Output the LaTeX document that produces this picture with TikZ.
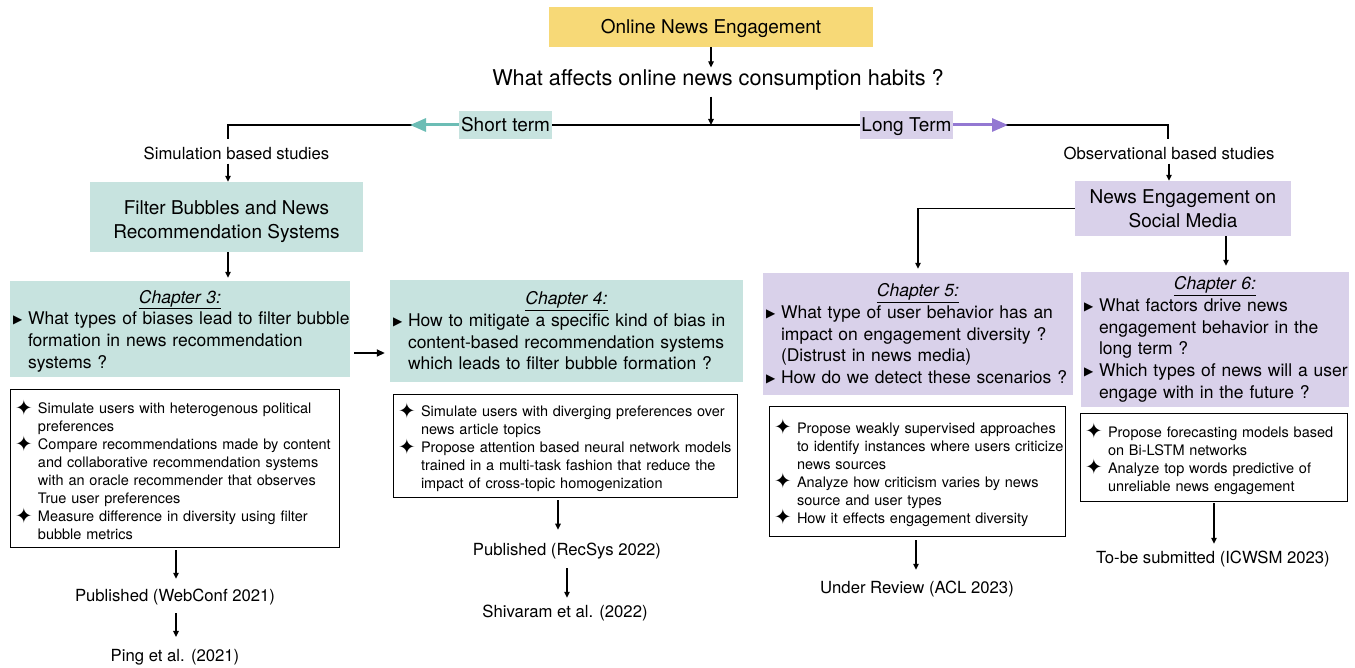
\documentclass[tikz,border=0pt]{standalone}
\usepackage{fontspec}
\setmainfont{TeX Gyre Heros}
\newfontfamily\symfont{DejaVu Sans}
\usetikzlibrary{arrows.meta}
\definecolor{ytitle}{HTML}{F7D977}
\definecolor{tealbox}{HTML}{C7E3DF}
\definecolor{lavbox}{HTML}{D9D1EA}
\definecolor{tealarr}{HTML}{6CBDB5}
\definecolor{purarr}{HTML}{9378D2}
\newcommand{\fsTitle}{\fontsize{19}{24}\selectfont}
\newcommand{\fsQ}{\fontsize{21.7}{26}\selectfont}
\newcommand{\fsSmall}{\fontsize{16.7}{20}\selectfont}
\newcommand{\fsChap}{\fontsize{17.5}{21.7}\selectfont}
\newcommand{\fsBul}{\fontsize{14.5}{18}\selectfont}
\newcommand{\chhead}[1]{{\centering\underline{\itshape #1}\par}}
\newcommand{\mytri}{\raisebox{1pt}{\symfont\fontsize{12}{12}\selectfont ▶}}
\newcommand{\mystar}{\raisebox{-1.5pt}{\symfont\fontsize{21}{18}\selectfont ✦}}
\newcommand{\citem}[1]{\par\raggedright\noindent\hangindent=15pt\hangafter=1\makebox[15pt][l]{\mytri}#1\par}
\newcommand{\sitem}[1]{\par\raggedright\noindent\hangindent=23pt\hangafter=1\makebox[23pt][l]{\mystar}#1\par}
\tikzset{
  line/.style={draw=black, line width=1.2pt},
  arr/.style={line, -{Triangle[length=6pt,width=5.5pt]}},
  arrbig/.style={draw=black, line width=1.8pt, -{Triangle[length=8pt,width=7pt]}},
  tarr/.style={draw=tealarr, line width=3pt, -{Triangle[length=16pt,width=13pt]}},
  parr/.style={draw=purarr, line width=3pt, -{Triangle[length=16pt,width=13pt]}},
  lbl/.style={font=\fsSmall, inner xsep=2pt, inner ysep=4pt},
  onebox/.style={font=\fsTitle, inner sep=0pt, text height=15pt, text depth=1pt},
  chapbox/.style={font=\fsChap, inner xsep=3pt, inner ysep=0pt},
  bulbox/.style={draw=black, line width=0.9pt, fill=white, font=\fsBul, inner xsep=5pt, inner ysep=0pt},
  headbox/.style={font=\fsTitle, align=center, inner sep=0pt}
}
\begin{document}
\begin{tikzpicture}[x=1pt,y=-1pt]
\useasboundingbox (0,0) rectangle (1355,668);
% coordinates
\coordinate (hub) at (711,125);
\coordinate (L) at (228,139);
\coordinate (R) at (1168,139);
\coordinate (tealend) at (410,125);
\coordinate (purend) at (1008,125);
\coordinate (m34) at (0,353);
\coordinate (c3) at (176,0);
\coordinate (c4a) at (558,0);
\coordinate (c4b) at (567,0);
\coordinate (c5) at (916,0);
\coordinate (c6) at (1214,0);
\coordinate (cn6) at (1226,0);
\coordinate (cobs) at (1169,0);
% main branch line
\draw[line] (L) |- (hub) -| (R);
% top nodes
\node[onebox, fill=ytitle, minimum width=324pt, minimum height=40pt] (title) at (711,27) {Online News Engagement};
\node[font=\fsQ, inner sep=2pt] (q) at (718,80) {What affects online news consumption habits ?};
\node[onebox, fill=tealbox, minimum width=93pt, minimum height=28pt] (short) at (505.5,125) {Short term};
\node[onebox, fill=lavbox, minimum width=93pt, minimum height=28pt] (long) at (906.5,125) {Long Term};
\node[lbl] (sim) at (236.5,153) {Simulation based studies};
\node[lbl] (obs) at (1169,153) {Observational based studies};
% second level
\node[headbox, fill=tealbox, minimum width=273pt, minimum height=70pt] (filter) at (226.5,217) {\rule{0pt}{23pt}Filter Bubbles and News\\Recommendation Systems};
\node[headbox, fill=lavbox, minimum width=216pt, minimum height=55pt] (news) at (1183,208.5) {News Engagement on\\Social Media};
% chapter boxes
\node[chapbox, fill=tealbox, text width=334pt, minimum height=96pt] (ch3) at (180,329) {%
\chhead{\rule{0pt}{17pt}Chapter 3:}
\citem{\mbox{What types of biases lead to filter bubble}\newline\mbox{formation in news recommendation}\newline\mbox{systems ?}}};
\node[chapbox, fill=tealbox, text width=347pt, minimum height=102pt] (ch4) at (566.5,331) {%
\chhead{Chapter 4:}
\citem{\mbox{How to mitigate a specific kind of bias in}\newline\mbox{content-based recommendation systems}\newline\mbox{which leads to filter bubble formation ?}}};
\node[chapbox, fill=lavbox, text width=304pt, minimum height=122pt] (ch5) at (918,334) {%
\chhead{Chapter 5:}
\citem{\mbox{What type of user behavior has an}\newline\mbox{impact on engagement diversity ?}\newline\mbox{(Distrust in news media)}}
\citem{\mbox{How do we detect these scenarios ?}}};
\node[chapbox, fill=lavbox, text width=262pt, minimum height=135pt] (ch6) at (1215,339.5) {%
\chhead{Chapter 6:}
\citem{\mbox{What factors drive news}\newline\mbox{engagement behavior in the}\newline\mbox{long term ?}}
\citem{\mbox{Which types of news will a user}\newline\mbox{engage with in the future ?}}};
% bullet boxes
\node[bulbox, text width=319pt, minimum height=158pt] (ch3b) at (174.5,468) {%
\sitem{\mbox{Simulate users with heterogenous political}\newline\mbox{preferences}}
\sitem{\mbox{Compare recommendations made by content}\newline\mbox{and collaborative recommendation systems}\newline\mbox{with an oracle recommender that observes}\newline\mbox{True user preferences}}
\sitem{\mbox{Measure difference in diversity using filter}\newline\mbox{bubble metrics}}};
\node[bulbox, text width=334pt, minimum height=103pt] (ch4b) at (565,445.5) {%
\sitem{\mbox{Simulate users with diverging preferences over}\newline\mbox{news article topics}}
\sitem{\mbox{Propose attention based neural network models}\newline\mbox{trained in a multi-task fashion that reduce the}\newline\mbox{impact of cross-topic homogenization}}};
\node[bulbox, text width=286pt, minimum height=130pt] (ch5b) at (917,471) {%
\sitem{\mbox{Propose weakly supervised approaches}\newline\mbox{to identify instances where users criticize}\newline\mbox{news sources}}
\sitem{\mbox{Analyze how criticism varies by news}\newline\mbox{source and user types}}
\sitem{\mbox{How it effects engagement diversity}}};
\node[bulbox, text width=257pt, minimum height=88pt] (ch6b) at (1213.5,457) {%
\sitem{\mbox{Propose forecasting models based}\newline\mbox{on Bi-LSTM networks}}
\sitem{\mbox{Analyze top words predictive of}\newline\mbox{unreliable news engagement}}};
% publication labels
\node[lbl] (pub3) at (175,597) {Published (WebConf 2021)};
\node[lbl] (ping) at (175,657) {Ping et al. (2021)};
\node[lbl] (pub4) at (567,551) {Published (RecSys 2022)};
\node[lbl] (shiv) at (565,613) {Shivaram et al. (2022)};
\node[lbl] (rev5) at (917,589) {Under Review (ACL 2023)};
\node[lbl] (sub6) at (1213,559) {To-be submitted (ICWSM 2023)};
% connectors
\draw[arr] (title.south) -- (title.south |- q.north);
\draw[arr, shorten <=4pt] (q.south -| hub) -- (hub);
\draw[tarr] (short.west) -- (tealend);
\draw[parr] (long.east) -- (purend);
\draw[arr] (sim.south -| L) -- (filter.north -| L);
\draw[arr] (obs.south -| cobs) -- (news.north -| cobs);
\draw[arr, shorten >=3pt] (filter.south -| L) -- (ch3.north -| L);
\draw[arrbig, shorten <=4pt, shorten >=5pt] (ch3.east |- m34) -- (ch4.west |- m34);
\draw[arr, shorten >=4pt] (news.west) -| (ch5.north);
\draw[arr, shorten >=6pt] (news.south -| cn6) -- (ch6.north -| cn6);
\draw[arr, shorten <=3pt, shorten >=6pt] (ch3b.south -| c3) -- (pub3.north -| c3);
\draw[arr, shorten <=4pt, shorten >=8pt] (pub3.south -| c3) -- (ping.north -| c3);
\draw[arr, shorten <=3pt, shorten >=9pt] (ch4b.south -| c4a) -- (pub4.north -| c4a);
\draw[arr, shorten <=5pt, shorten >=3pt] (pub4.south -| c4b) -- (shiv.north -| c4b);
\draw[arr, shorten <=4pt, shorten >=7pt] (ch5b.south -| c5) -- (rev5.north -| c5);
\draw[arr, shorten <=2pt, shorten >=3pt] (ch6b.south -| c6) -- (sub6.north -| c6);
\end{tikzpicture}
\end{document}
